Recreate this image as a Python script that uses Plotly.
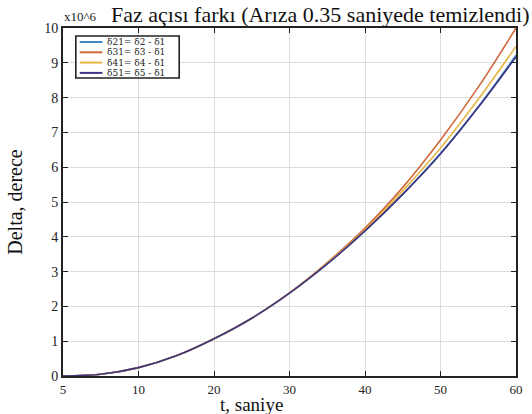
import plotly.graph_objects as go

# x positions (evenly spaced axis, labelled 5,10,20,...,60)
t = [0, 5, 10, 15, 20, 25, 30, 35, 40, 45, 50, 55, 60]
tick_vals = [0, 10, 20, 30, 40, 50, 60]
tick_text = ["5", "10", "20", "30", "40", "50", "60"]

d21 = [0, 0.05, 0.24, 0.58, 1.07, 1.66, 2.38, 3.22, 4.17, 5.23, 6.40, 7.74, 9.22]
d31 = [0, 0.05, 0.24, 0.58, 1.07, 1.66, 2.39, 3.26, 4.25, 5.42, 6.78, 8.30, 10.0]
d41 = [0, 0.05, 0.24, 0.58, 1.07, 1.66, 2.38, 3.24, 4.20, 5.32, 6.55, 7.95, 9.47]
d51 = [0, 0.05, 0.24, 0.58, 1.07, 1.66, 2.38, 3.22, 4.17, 5.22, 6.38, 7.72, 9.17]

names = ["δ21= δ2 - δ1", "δ31= δ3 - δ1", "δ41= δ4 - δ1", "δ51= δ5 - δ1"]
colors = ["#3f88c5", "#d0683c", "#e6b548", "#3e3580"]
series = [d21, d31, d41, d51]

SERIF = "Liberation Serif"

fig = go.Figure()
for n, c, s in zip(names, colors, series):
    fig.add_trace(go.Scatter(x=t, y=s, mode="lines", name=n,
                             line=dict(color=c, width=1.6, shape="spline")))

axis_common = dict(
    showline=True, linecolor="#222", linewidth=2, mirror="ticks",
    ticks="inside", ticklen=5, tickcolor="#222", tickwidth=1.2,
    showgrid=True, gridcolor="#dcdcdc", gridwidth=1, zeroline=False,
    tickfont=dict(family=SERIF, size=14, color="#222"),
)

# plot area in pixels: x 63..523, y 28..376
PL, PR, PT, PB = 63, 523, 28, 376
def px(xp):
    return (xp - PL) / (PR - PL)
def py(yp):
    return (PB - yp) / (PB - PT)

fig.update_layout(
    width=532, height=414,
    margin=dict(l=PL, r=532 - PR, t=PT, b=414 - PB),
    paper_bgcolor="white", plot_bgcolor="white",
    title=dict(text="Faz açısı farkı (Arıza 0.35 saniyede temizlendi)",
               font=dict(family=SERIF, size=22, color="#111"),
               x=0.602, xanchor="center", y=0.984, yanchor="top"),
    xaxis=dict(range=[0, 60], tickvals=tick_vals, ticktext=tick_text, **axis_common),
    yaxis=dict(range=[0, 10], dtick=1,
               title=dict(text="Delta, derece", font=dict(family=SERIF, size=20, color="#111"), standoff=16),
               **axis_common),
    showlegend=False,
)
fig.update_xaxes(tickfont=dict(size=13))

# x axis title (sits close under the tick labels)
fig.add_annotation(text="t, saniye", xref="paper", yref="paper", x=px(254), y=py(404),
                   xanchor="center", yanchor="middle", showarrow=False,
                   font=dict(family=SERIF, size=19, color="#111"))

fig.add_annotation(text="x10^6", xref="paper", yref="paper", x=px(62), y=py(26),
                   xanchor="left", yanchor="bottom", showarrow=False,
                   font=dict(family=SERIF, size=13, color="#222"))

# compact legend box
fig.add_shape(type="rect", xref="paper", yref="paper",
              x0=px(76), x1=px(181), y0=py(78), y1=py(36),
              line=dict(color="#222", width=1.6), fillcolor="white", layer="above")
for i, (n, c) in enumerate(zip(names, colors)):
    yy = py(42 + i * 10.3)
    fig.add_shape(type="line", xref="paper", yref="paper",
                  x0=px(80), x1=px(103), y0=yy, y1=yy,
                  line=dict(color=c, width=2), layer="above")
    fig.add_annotation(text=n, xref="paper", yref="paper", x=px(106), y=yy,
                       xanchor="left", yanchor="middle", showarrow=False,
                       font=dict(family="DejaVu Serif", size=9, color="#222"))

fig.write_html("out.html")
